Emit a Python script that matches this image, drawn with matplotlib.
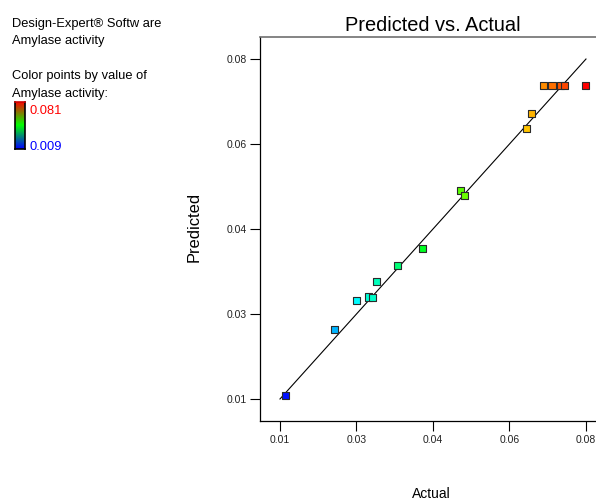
"""Predicted vs. actual plot for amylase activity, Design-Expert style."""

import numpy as np
import matplotlib
matplotlib.use("Agg")
import matplotlib.pyplot as plt
from matplotlib.colors import LinearSegmentedColormap, Normalize

### DATA ####
actual = [0.0103, 0.0219, 0.0269, 0.0299, 0.0308, 0.0318, 0.0367, 0.0426,
          0.0514, 0.0524, 0.0671, 0.0681, 0.0710, 0.0730, 0.0749, 0.0759, 0.0808]
predicted = [0.0098, 0.0238, 0.0299, 0.0306, 0.0304, 0.0338, 0.0372, 0.0408,
             0.0531, 0.0520, 0.0662, 0.0694, 0.0754, 0.0754, 0.0754, 0.0754, 0.0754]
resp_min, resp_max = 0.009, 0.081
tick_values = [0.009, 0.027, 0.045, 0.063, 0.081]
tick_labels = ["0.01", "0.03", "0.04", "0.06", "0.08"]
##############

BASE_FONT = ["Liberation Sans", "DejaVu Sans"]
TICK_FONT = ["Liberation Sans Narrow", "Liberation Sans", "DejaVu Sans"]

point_cmap = LinearSegmentedColormap.from_list(
    "de_points", ["#0000ff", "#00ffff", "#00ff00", "#ffff00", "#ff0000"])
legend_cmap = LinearSegmentedColormap.from_list(
    "de_legend", ["#0000ff", "#00ff00", "#ff0000"])
norm = Normalize(vmin=resp_min, vmax=resp_max)

fig = plt.figure(figsize=(5.96, 5.0), dpi=100)
plt.rcParams["font.family"] = BASE_FONT

ax = fig.add_axes([0.4367, 0.1586, 0.5793, 0.7668])
ax.set_xlim(0.00436, 0.0856)
ax.set_ylim(0.0044, 0.0856)

# 1:1 reference line
ax.plot([resp_min, resp_max], [resp_min, resp_max], color="black", lw=0.8, zorder=2)

ax.scatter(actual, predicted, c=actual, cmap=point_cmap, norm=norm, marker="s",
           s=26, edgecolors="#2a2a2a", linewidths=0.8, zorder=3)

ax.set_xticks(tick_values)
ax.set_xticklabels(tick_labels)
ax.set_yticks(tick_values)
ax.set_yticklabels(tick_labels)
ax.tick_params(direction="out", length=7.5, width=0.8, pad=2.5, labelsize=7.5,
               colors="black")
for lbl in ax.get_xticklabels() + ax.get_yticklabels():
    lbl.set_family(TICK_FONT)
    lbl.set_color("#222222")

for side in ("left", "bottom"):
    ax.spines[side].set_linewidth(0.9)
ax.spines["top"].set_color("#707070")
ax.spines["top"].set_linewidth(1.2)
ax.spines["right"].set_visible(False)

ax.set_title("Predicted vs. Actual", fontsize=14.4, pad=4.7)
fig.text(194 / 596, 1 - 226.7 / 500, "Predicted", rotation=90, ha="center",
         va="center", fontsize=11.9)
fig.text(431.5 / 596, 2.5 / 500, "Actual", ha="center", va="baseline", fontsize=10)

# header text on the left
header = [("Design-Expert\u00ae Softw are", 27.3),
          ("Amylase activity", 44.0),
          ("Color points by value of", 79.0),
          ("Amylase activity:", 96.7)]
for txt, base in header:
    fig.text(12 / 596, 1 - base / 500, txt, ha="left", va="baseline", fontsize=9.3)

# little colour key
key_ax = fig.add_axes([15.3 / 596, 1 - 149 / 500, 9.4 / 596, 47.3 / 500])
gradient = np.linspace(0, 1, 100).reshape(-1, 1)
key_ax.imshow(gradient, aspect="auto", cmap=legend_cmap, origin="lower")
key_ax.set_xticks([])
key_ax.set_yticks([])
for side in key_ax.spines.values():
    side.set_linewidth(1.2)
key_ax.spines["top"].set_color("#cc0000")

fig.text(30 / 596, 1 - 114.3 / 500, f"{resp_max:.3f}", color="#ff0000",
         ha="left", va="baseline", fontsize=9.3)
fig.text(30 / 596, 1 - 150 / 500, f"{resp_min:.3f}", color="#0000ff",
         ha="left", va="baseline", fontsize=9.3)

fig.savefig("out.png", dpi=100)
